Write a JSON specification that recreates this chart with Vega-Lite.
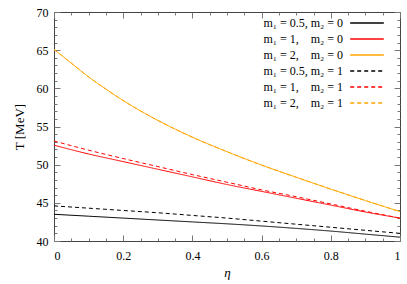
{
  "$schema": "https://vega.github.io/schema/vega-lite/v6.json",
  "width": 346,
  "height": 229,
  "autosize": "none",
  "padding": {"left": 54, "top": 12, "right": 7, "bottom": 43},
  "background": "white",
  "config": {
    "view": {"stroke": "#444", "strokeWidth": 1},
    "font": "Liberation Serif, Times New Roman, DejaVu Serif, serif",
    "axis": {"labelFont": "Liberation Serif, Times New Roman, DejaVu Serif, serif", "titleFont": "Liberation Serif, Times New Roman, DejaVu Serif, serif", "labelFontSize": 12, "titleFontSize": 13, "labelColor": "#000", "titleColor": "#000", "titleFontWeight": "normal", "tickColor": "#777", "tickWidth": 1, "grid": false, "domain": false},
    "legend": {"labelFont": "Liberation Serif, Times New Roman, DejaVu Serif, serif", "labelFontSize": 12, "labelColor": "#000"}
  },
  "data": {"values": [
    {"eta": 0.0, "T": 43.5, "s": "a"}, {"eta": 0.1, "T": 43.25, "s": "a"}, {"eta": 0.2, "T": 43.0, "s": "a"}, {"eta": 0.3, "T": 42.75, "s": "a"}, {"eta": 0.4, "T": 42.5, "s": "a"}, {"eta": 0.5, "T": 42.25, "s": "a"}, {"eta": 0.6, "T": 41.97, "s": "a"}, {"eta": 0.7, "T": 41.65, "s": "a"}, {"eta": 0.8, "T": 41.3, "s": "a"}, {"eta": 0.9, "T": 40.9, "s": "a"}, {"eta": 1.0, "T": 40.5, "s": "a"},
    {"eta": 0.0, "T": 52.55, "s": "b"}, {"eta": 0.1, "T": 51.4, "s": "b"}, {"eta": 0.2, "T": 50.4, "s": "b"}, {"eta": 0.3, "T": 49.4, "s": "b"}, {"eta": 0.4, "T": 48.4, "s": "b"}, {"eta": 0.5, "T": 47.4, "s": "b"}, {"eta": 0.6, "T": 46.5, "s": "b"}, {"eta": 0.7, "T": 45.6, "s": "b"}, {"eta": 0.8, "T": 44.7, "s": "b"}, {"eta": 0.9, "T": 43.8, "s": "b"}, {"eta": 1.0, "T": 43.0, "s": "b"},
    {"eta": 0.0, "T": 65.1, "s": "c"}, {"eta": 0.05, "T": 63.3, "s": "c"}, {"eta": 0.1, "T": 61.5, "s": "c"}, {"eta": 0.15, "T": 59.9, "s": "c"}, {"eta": 0.2, "T": 58.4, "s": "c"}, {"eta": 0.3, "T": 55.8, "s": "c"}, {"eta": 0.4, "T": 53.6, "s": "c"}, {"eta": 0.5, "T": 51.7, "s": "c"}, {"eta": 0.6, "T": 49.95, "s": "c"}, {"eta": 0.7, "T": 48.35, "s": "c"}, {"eta": 0.8, "T": 46.8, "s": "c"}, {"eta": 0.9, "T": 45.3, "s": "c"}, {"eta": 1.0, "T": 43.85, "s": "c"},
    {"eta": 0.0, "T": 44.6, "s": "d"}, {"eta": 0.1, "T": 44.3, "s": "d"}, {"eta": 0.2, "T": 44.0, "s": "d"}, {"eta": 0.3, "T": 43.7, "s": "d"}, {"eta": 0.4, "T": 43.35, "s": "d"}, {"eta": 0.5, "T": 43.0, "s": "d"}, {"eta": 0.6, "T": 42.6, "s": "d"}, {"eta": 0.7, "T": 42.2, "s": "d"}, {"eta": 0.8, "T": 41.8, "s": "d"}, {"eta": 0.9, "T": 41.4, "s": "d"}, {"eta": 1.0, "T": 41.0, "s": "d"},
    {"eta": 0.0, "T": 53.1, "s": "e"}, {"eta": 0.1, "T": 51.9, "s": "e"}, {"eta": 0.2, "T": 50.8, "s": "e"}, {"eta": 0.3, "T": 49.75, "s": "e"}, {"eta": 0.4, "T": 48.7, "s": "e"}, {"eta": 0.5, "T": 47.7, "s": "e"}, {"eta": 0.6, "T": 46.7, "s": "e"}, {"eta": 0.7, "T": 45.8, "s": "e"}, {"eta": 0.8, "T": 44.85, "s": "e"}, {"eta": 0.9, "T": 43.9, "s": "e"}, {"eta": 1.0, "T": 43.0, "s": "e"},
    {"eta": 0.0, "T": 65.1, "s": "f"}, {"eta": 0.05, "T": 63.3, "s": "f"}, {"eta": 0.1, "T": 61.5, "s": "f"}, {"eta": 0.15, "T": 59.9, "s": "f"}, {"eta": 0.2, "T": 58.4, "s": "f"}, {"eta": 0.3, "T": 55.8, "s": "f"}, {"eta": 0.4, "T": 53.6, "s": "f"}, {"eta": 0.5, "T": 51.7, "s": "f"}, {"eta": 0.6, "T": 49.95, "s": "f"}, {"eta": 0.7, "T": 48.35, "s": "f"}, {"eta": 0.8, "T": 46.8, "s": "f"}, {"eta": 0.9, "T": 45.3, "s": "f"}, {"eta": 1.0, "T": 43.85, "s": "f"}
  ]},
  "resolve": {"axis": {"x": "independent", "y": "independent"}},
  "layer": [
    {
      "mark": {"type": "line", "strokeWidth": 1, "interpolate": "monotone"},
      "encoding": {
        "x": {"field": "eta", "type": "quantitative", "scale": {"domain": [0, 1], "nice": false, "zero": false},
              "axis": {"orient": "bottom", "values": [0, 0.2, 0.4, 0.6, 0.8, 1], "format": "~g", "ticks": false, "labelPadding": 9, "labelFont": "Liberation Serif, Times New Roman, serif", "titleFont": "Liberation Serif, Times New Roman, serif", "title": "η", "titleFontStyle": "italic", "titlePadding": 5}},
        "y": {"field": "T", "type": "quantitative", "scale": {"domain": [40, 70], "nice": false, "zero": false},
              "axis": {"orient": "left", "values": [40, 45, 50, 55, 60, 65, 70], "ticks": false, "labelPadding": 6, "labelFont": "Liberation Serif, Times New Roman, serif", "titleFont": "Liberation Serif, Times New Roman, serif", "title": "T [MeV]", "titlePadding": 10}},
        "color": {"field": "s", "type": "nominal",
                  "scale": {"domain": ["a", "b", "c", "d", "e", "f"], "range": ["#000000", "#ff0000", "#ffa500", "#000000", "#ff0000", "#ffa500"]},
                  "legend": {"orient": "none", "legendX": 180, "legendY": 4, "title": null, "padding": 0,
                             "symbolType": "M-2.8,0H2.8", "symbolSize": 144, "symbolStrokeWidth": 1.3,
                             "labelAlign": "right", "labelOffset": -31, "symbolOffset": 126, "rowPadding": 3, "labelLimit": 200,
                             "labelExpr": "{'a': 'm₁ = 0.5, m₂ = 0', 'b': 'm₁ = 1,\u00a0\u00a0\u00a0\u00a0m₂ = 0', 'c': 'm₁ = 2,\u00a0\u00a0\u00a0\u00a0m₂ = 0', 'd': 'm₁ = 0.5, m₂ = 1', 'e': 'm₁ = 1,\u00a0\u00a0\u00a0\u00a0m₂ = 1', 'f': 'm₁ = 2,\u00a0\u00a0\u00a0\u00a0m₂ = 1'}[datum.value]"}},
        "strokeDash": {"field": "s", "type": "nominal",
                       "scale": {"domain": ["a", "b", "c", "d", "e", "f"], "range": [[1, 0], [1, 0], [1, 0], [4, 3], [4, 3], [4, 3]]},
                       "legend": null}
      }
    },
    {
      "mark": {"type": "point", "opacity": 0},
      "encoding": {
        "x": {"field": "eta", "type": "quantitative", "axis": {"orient": "bottom", "values": [0, 0.2, 0.4, 0.6, 0.8, 1], "labels": false, "tickSize": -6, "title": null}},
        "y": {"field": "T", "type": "quantitative", "axis": {"orient": "left", "values": [40, 45, 50, 55, 60, 65, 70], "labels": false, "tickSize": -6, "title": null}}
      }
    },
    {
      "mark": {"type": "point", "opacity": 0},
      "encoding": {
        "x": {"field": "eta", "type": "quantitative", "axis": {"orient": "top", "values": [0, 0.2, 0.4, 0.6, 0.8, 1], "labels": false, "tickSize": -6, "title": null}},
        "y": {"field": "T", "type": "quantitative", "axis": {"orient": "right", "values": [40, 45, 50, 55, 60, 65, 70], "labels": false, "tickSize": -6, "title": null}}
      }
    },
    {
      "mark": {"type": "point", "opacity": 0},
      "encoding": {
        "x": {"field": "eta", "type": "quantitative", "axis": {"orient": "bottom", "values": [0.05, 0.1, 0.15, 0.25, 0.3, 0.35, 0.45, 0.5, 0.55, 0.65, 0.7, 0.75, 0.85, 0.9, 0.95], "labels": false, "tickSize": -3, "title": null}},
        "y": {"field": "T", "type": "quantitative", "axis": {"orient": "left", "values": [41, 42, 43, 44, 46, 47, 48, 49, 51, 52, 53, 54, 56, 57, 58, 59, 61, 62, 63, 64, 66, 67, 68, 69], "labels": false, "tickSize": -3, "title": null}}
      }
    },
    {
      "mark": {"type": "point", "opacity": 0},
      "encoding": {
        "x": {"field": "eta", "type": "quantitative", "axis": {"orient": "top", "values": [0.05, 0.1, 0.15, 0.25, 0.3, 0.35, 0.45, 0.5, 0.55, 0.65, 0.7, 0.75, 0.85, 0.9, 0.95], "labels": false, "tickSize": -3, "title": null}},
        "y": {"field": "T", "type": "quantitative", "axis": {"orient": "right", "values": [41, 42, 43, 44, 46, 47, 48, 49, 51, 52, 53, 54, 56, 57, 58, 59, 61, 62, 63, 64, 66, 67, 68, 69], "labels": false, "tickSize": -3, "title": null}}
      }
    }
  ]
}
